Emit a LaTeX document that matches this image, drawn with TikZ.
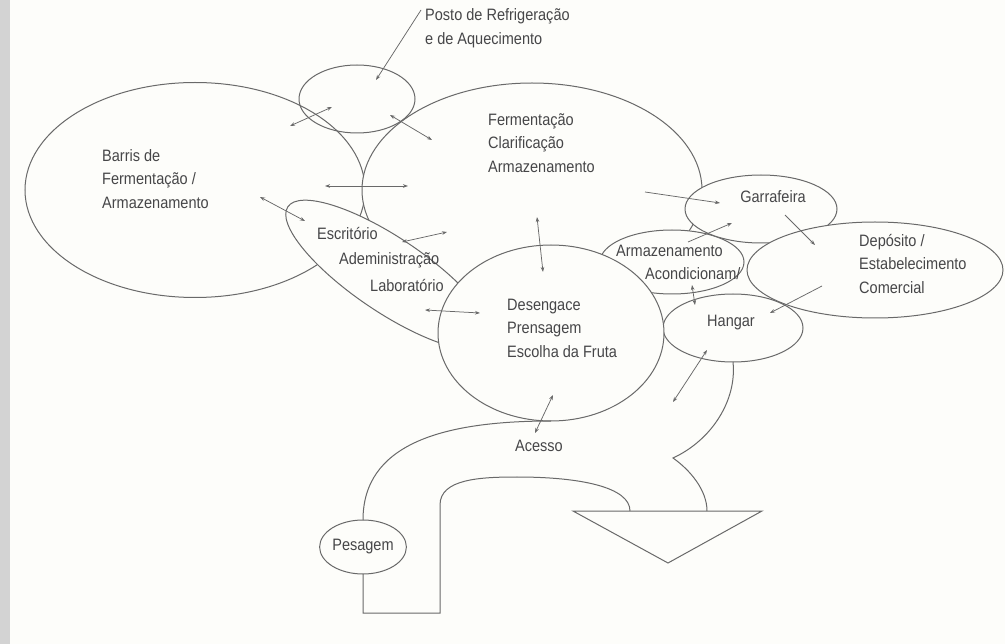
\documentclass[tikz,border=0pt]{standalone}
\usepackage{fontspec}
\setmainfont{Liberation Sans}[FakeStretch=0.88]
\usetikzlibrary{arrows.meta, shapes.geometric, positioning}
\definecolor{Traco}{RGB}{105,105,105}
\definecolor{Texto}{RGB}{70,70,72}
\definecolor{Fundo}{RGB}{253,253,250}
\definecolor{Faixa}{RGB}{211,211,211}

\begin{document}
\begin{tikzpicture}[x=1pt, y=-1pt,
  bolha/.style={ellipse, draw=Traco, line width=1pt, fill=Fundo,
                inner sep=0pt, outer sep=0pt},
  txt/.style={font=\fontsize{16.5}{23.5}\selectfont, text=Texto,
              align=left, inner sep=0pt},
  seta/.style={-{Stealth[length=5pt, width=3.6pt]}, draw=Traco, line width=0.75pt},
  dseta/.style={{Stealth[length=5pt, width=3.6pt]}-{Stealth[length=5pt, width=3.6pt]},
                draw=Traco, line width=0.75pt},
  via/.style={draw=Traco, line width=1pt}
]

%% --- PAGE ---
\useasboundingbox (0,0) rectangle (1005,644);
\fill[Fundo] (0,0) rectangle (1005,644);
\fill[Faixa] (0,0) rectangle (10,644);

%% --- BUBBLES (back to front) ---
\node[bolha, minimum width=340pt, minimum height=215pt] (barris) at (195,190) {};
\node[bolha, minimum width=340pt, minimum height=214pt] (ferment) at (532,190) {};
\node[bolha, fill=none, minimum width=116pt, minimum height=68pt] (refrig) at (357,99) {};
\node[bolha, minimum width=244pt, minimum height=74pt, rotate=-34] (escrit) at (389,275) {};
\node[bolha, minimum width=144pt, minimum height=64pt] (acond) at (672,262) {};
\node[bolha, minimum width=152pt, minimum height=68pt] (garraf) at (761,209) {};
\node[bolha, minimum width=256pt, minimum height=96pt] (deposito) at (875,270) {};
\node[bolha, minimum width=140pt, minimum height=68pt] (hangar) at (733,328) {};
\node[bolha, minimum width=226pt, minimum height=176pt] (deseng) at (551,333) {};
\node[bolha, minimum width=80pt, minimum height=54pt, txt] (pesagem) at (363,547) {Pesagem};

%% --- ACCESS ROAD AND UNLOADING ---
\draw[via] (deseng.south) .. controls (440,421) and (363,445) .. (pesagem.north);
\draw[via] (pesagem.south) -- (363,613) -- (440,613) -- (440,505)
  .. controls (440,479) and (480,477) .. (517,477)
  .. controls (580,477) and (630,487) .. (630,511);
\draw[via] (hangar.south) .. controls (737,400) and (712,440) .. (673,458)
  .. controls (690,470) and (707,490) .. (707,511);
\draw[via] (573,511) -- (762,511) -- (668,563) -- cycle;

%% --- TEXTS ---
\node[txt, anchor=west] (posto) at (425,28)
  {Posto de Refrigeração\\e de Aquecimento};
\node[txt, anchor=west] (tbarris) at (102,179)
  {Barris de\\Fermentação /\\Armazenamento};
\node[txt, anchor=west] (tferment) at (488,143)
  {Fermentação\\Clarificação\\Armazenamento};
\node[txt, anchor=base west] (tescrit) at (317,240) {Escritório};
\node[txt, anchor=base west] (tadmin) at (339,265) {Adeministração};
\node[txt, anchor=base west] (tlab) at (370,292) {Laboratório};
\node[txt, anchor=west] (tdeseng) at (507,328)
  {Desengace\\Prensagem\\Escolha da Fruta};
\node[txt, anchor=base] (tacesso) at (539,452) {Acesso};
\node[txt, anchor=base] (tgarraf) at (773,203) {Garrafeira};
\node[txt, anchor=base west] (tarmaz) at (616,257) {Armazenamento};
\node[txt, anchor=base west] (tacond) at (645,280) {Acondicionam/};
\node[txt, anchor=base] (thangar) at (731,327) {Hangar};
\node[txt, anchor=west] (tdeposito) at (859,264)
  {Depósito /\\Estabelecimento\\Comercial};

%% --- ARROW ENDS ---
\coordinate (p0) at (421,10);   \coordinate (q0) at (376,80);
\coordinate (p1) at (290,126);  \coordinate (q1) at (332,107);
\coordinate (p2) at (390,115);  \coordinate (q2) at (432,140);
\coordinate (p3) at (325,186);  \coordinate (q3) at (408,186);
\coordinate (p4) at (260,197);  \coordinate (q4) at (305,221);
\coordinate (p5) at (402,242);  \coordinate (q5) at (447,232);
\coordinate (p6) at (425,310);  \coordinate (q6) at (480,313);
\coordinate (p7) at (537,217);  \coordinate (q7) at (543,272);
\coordinate (p8) at (553,395);  \coordinate (q8) at (535,433);
\coordinate (p9) at (645,192);  \coordinate (q9) at (720,203);
\coordinate (p10) at (688,242); \coordinate (q10) at (732,223);
\coordinate (p11) at (785,215); \coordinate (q11) at (815,245);
\coordinate (p12) at (822,286); \coordinate (q12) at (770,313);
\coordinate (p13) at (692,285); \coordinate (q13) at (695,305);
\coordinate (p14) at (707,350); \coordinate (q14) at (673,402);

%% --- ARROWS ---
\draw[seta] (p0) -- (q0);
\foreach \i in {1,...,8,13,14}
  \draw[dseta] (p\i) -- (q\i);
\foreach \i in {9,...,12}
  \draw[seta] (p\i) -- (q\i);

\end{tikzpicture}
\end{document}
